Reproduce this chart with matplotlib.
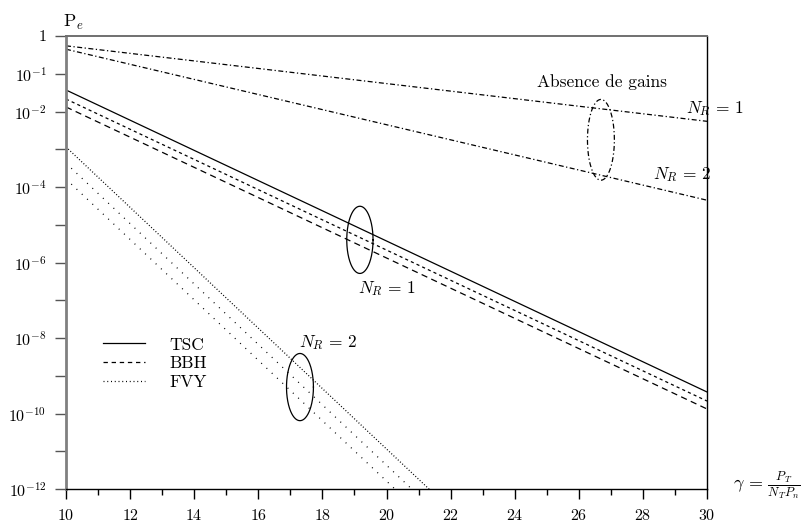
import numpy as np
import matplotlib
matplotlib.use('Agg')
import matplotlib.pyplot as plt
from matplotlib.lines import Line2D

plt.rcParams['mathtext.fontset'] = 'cm'
plt.rcParams['font.family'] = 'cmr10'
plt.rcParams['axes.formatter.use_mathtext'] = True

# gamma in dB (end points of each straight line in log scale)
gamma = [10, 20, 30]

# log10(Pe)
absence_nr1 = [-0.26, -1.26, -2.26]
absence_nr2 = [-0.35, -2.35, -4.35]
tsc_nr1 = [-1.43, -5.43, -9.43]
fvy_nr1 = [-1.67, -5.67, -9.67]
bbh_nr1 = [-1.88, -5.88, -9.88]
fvy_nr2 = [-2.94, -10.94, -18.94]
tsc_nr2 = [-3.37, -11.37, -19.37]
bbh_nr2 = [-3.79, -11.79, -19.79]

ytick_exp = list(range(0, -13, -1))
ytick_lab = ['1', r'$10^{-1}$', r'$10^{-2}$', '', r'$10^{-4}$', '', r'$10^{-6}$', '',
             r'$10^{-8}$', '', r'$10^{-10}$', '', r'$10^{-12}$']

fig = plt.figure(figsize=(8.06, 5.24), dpi=100)
ax = fig.add_axes([66/806, 35/524, 641/806, 453/524])

lw = 0.9
dashdot = (0, (4, 2, 1, 2))
shortdash = (0, (2.5, 2.5))
longdash = (0, (5, 3.5))
densedot = (0, (0.8, 1.6))
sparsedot = (0, (0.8, 5))

def p(v):
    return 10.0 ** np.array(v)

ax.plot(gamma, p(absence_nr1), color='k', lw=lw, linestyle=dashdot)
ax.plot(gamma, p(absence_nr2), color='k', lw=lw, linestyle=dashdot)
ax.plot(gamma, p(tsc_nr1), color='k', lw=lw, linestyle='-')
ax.plot(gamma, p(fvy_nr1), color='k', lw=lw, linestyle=shortdash)
ax.plot(gamma, p(bbh_nr1), color='k', lw=lw, linestyle=longdash)
ax.plot(gamma, p(fvy_nr2), color='k', lw=lw, linestyle=densedot)
ax.plot(gamma, p(tsc_nr2), color='k', lw=lw, linestyle=sparsedot)
ax.plot(gamma, p(bbh_nr2), color='k', lw=lw, linestyle=sparsedot)

# ellipses grouping the curves (center x, center log10 y, half width, half height in decades)
t = np.linspace(0, 2*np.pi, 300)
def ellipse(xc, lyc, a, b, ls):
    ax.plot(xc + a*np.cos(t), 10.0**(lyc + b*np.sin(t)), color='k', lw=lw, linestyle=ls)

ellipse(19.17, -5.40, 0.41, 0.89, '-')
ellipse(17.30, -9.30, 0.42, 0.89, '-')
ellipse(26.69, -2.75, 0.42, 1.07, dashdot)

ax.set_yscale('log')
ax.set_xlim(10, 30)
ax.set_ylim(1e-12, 1)
ax.set_xticks(range(10, 31, 2))
ax.set_xticks(range(11, 31, 2), minor=True)
ax.set_yticks([10.0**e for e in ytick_exp])
ax.set_yticklabels(ytick_lab)
ax.yaxis.set_minor_locator(matplotlib.ticker.NullLocator())

ax.tick_params(axis='x', which='major', direction='out', length=7, width=1, pad=7, labelsize=11.5)
ax.tick_params(axis='x', which='minor', direction='out', length=4, width=1)
ax.tick_params(axis='y', direction='out', length=8, width=1, pad=6, labelsize=11.5, color='#555555')
for lab in ax.get_xticklabels() + ax.get_yticklabels():
    lab.set_fontfamily('cmr10')

ax.spines['left'].set_color('#808080')
ax.spines['left'].set_linewidth(2)
ax.spines['top'].set_color('#707070')
ax.spines['top'].set_linewidth(1.4)
ax.spines['right'].set_linewidth(1)
ax.spines['bottom'].set_linewidth(1)

fs = 12.5
nr1 = r'$N_R\,=\,1$'
nr2 = r'$N_R\,=\,2$'
ax.text(26.72, 10**-1.22, 'Absence de gains', ha='center', va='center', fontsize=fs)
ax.text(30.25, 10**-1.91, nr1, ha='center', va='center', fontsize=fs, clip_on=False)
ax.text(29.22, 10**-3.68, nr2, ha='center', va='center', fontsize=fs)
ax.text(20.02, 10**-6.70, nr1, ha='center', va='center', fontsize=fs)
ax.text(18.17, 10**-8.13, nr2, ha='center', va='center', fontsize=fs)

fig.text(73/806, 1 - 22/524, r'$\mathrm{P}_e$', ha='center', va='center', fontsize=13)
fig.text(733/806, 1 - 485/524, r'$\gamma\,=\,\frac{P_T}{N_T P_n}$', ha='left', va='center', fontsize=13)

handles = [Line2D([], [], color='k', lw=lw, linestyle='-'),
           Line2D([], [], color='k', lw=lw, linestyle=(0, (3.5, 3))),
           Line2D([], [], color='k', lw=lw, linestyle=(0, (0.8, 2.2)))]
ax.legend(handles, ['TSC', 'BBH', 'FVY'], loc='upper left', bbox_to_anchor=(0.058, 0.335),
          frameon=False, fontsize=fs, handlelength=2.4, handletextpad=1.4,
          labelspacing=0.2, borderpad=0, borderaxespad=0)

fig.savefig('out.png', dpi=100)
